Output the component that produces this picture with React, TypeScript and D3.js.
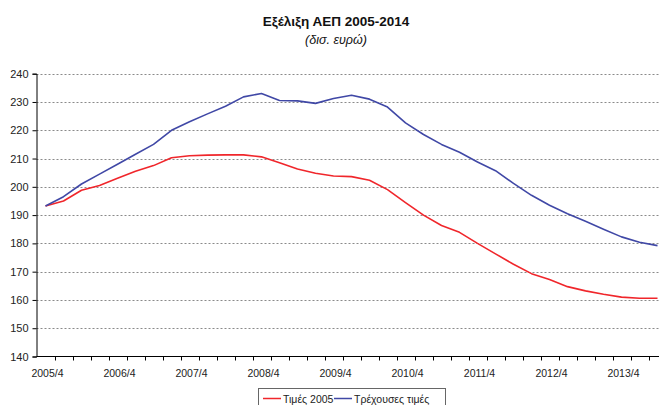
import { useEffect, useRef } from 'react';
import * as d3 from 'd3';

// Quarterly categories, 2005/4 .. 2014/2
const QUARTERS = [
  '2005/4',
  '2006/1', '2006/2', '2006/3', '2006/4',
  '2007/1', '2007/2', '2007/3', '2007/4',
  '2008/1', '2008/2', '2008/3', '2008/4',
  '2009/1', '2009/2', '2009/3', '2009/4',
  '2010/1', '2010/2', '2010/3', '2010/4',
  '2011/1', '2011/2', '2011/3', '2011/4',
  '2012/1', '2012/2', '2012/3', '2012/4',
  '2013/1', '2013/2', '2013/3', '2013/4',
  '2014/1', '2014/2',
];

// Τιμές 2005 (constant prices)
const CONSTANT_PRICES = [
  193.2, 195.0, 198.8, 200.5, 203.0, 205.5, 207.5, 210.3, 211.0,
  211.2, 211.3, 211.3, 210.6, 208.5, 206.3, 204.8, 203.8, 203.6,
  202.3, 199.0, 194.4, 190.0, 186.3, 183.9, 180.0, 176.3, 172.6,
  169.3, 167.2, 164.7, 163.2, 162.0, 161.0, 160.6, 160.6,
];

// Τρέχουσες τιμές (current prices)
const CURRENT_PRICES = [
  193.2, 196.5, 201.0, 204.5, 208.0, 211.5, 215.0, 220.0, 223.0,
  225.8, 228.5, 231.8, 233.0, 230.5, 230.4, 229.5, 231.2, 232.4,
  231.0, 228.2, 222.6, 218.5, 215.0, 212.2, 208.8, 205.7, 201.2,
  197.0, 193.5, 190.5, 187.8, 185.0, 182.3, 180.4, 179.2,
];

const Y_TICKS = [140, 150, 160, 170, 180, 190, 200, 210, 220, 230, 240];

const SERIES = [
  { name: 'Τιμές 2005', values: CONSTANT_PRICES, color: '#f0262b' },
  { name: 'Τρέχουσες τιμές', values: CURRENT_PRICES, color: '#4048a6' },
];

const WIDTH = 659;
const HEIGHT = 405;
const PLOT = { left: 36.5, top: 73.7, bottom: 356.5, band: 18 };
const FONT = '"Liberation Sans", Arial, sans-serif';

export default function App() {
  const svgRef = useRef<SVGSVGElement>(null);

  useEffect(() => {
    if (!svgRef.current) return;
    const svg = d3.select(svgRef.current);
    svg.selectAll('*').remove();

    const x = d3
      .scaleBand<string>()
      .domain(QUARTERS)
      .range([PLOT.left, PLOT.left + QUARTERS.length * PLOT.band])
      .padding(0);
    const y = d3.scaleLinear().domain([140, 240]).range([PLOT.bottom, PLOT.top]);
    const cx = (q: string) => (x(q) ?? 0) + x.bandwidth() / 2;
    const xEnd = PLOT.left + QUARTERS.length * PLOT.band;

    svg.append('rect').attr('width', WIDTH).attr('height', HEIGHT).attr('fill', '#fff');

    // Title
    svg.append('text')
      .attr('x', 336)
      .attr('y', 26)
      .attr('text-anchor', 'middle')
      .attr('font-family', FONT)
      .attr('font-size', '13.5px')
      .attr('font-weight', 'bold')
      .attr('fill', '#111')
      .text('Εξέλιξη ΑΕΠ 2005-2014');

    svg.append('text')
      .attr('x', 336)
      .attr('y', 44)
      .attr('text-anchor', 'middle')
      .attr('font-family', FONT)
      .attr('font-size', '12.5px')
      .attr('font-style', 'italic')
      .attr('fill', '#111')
      .text('(δισ. ευρώ)');

    // Gridlines
    svg.append('g')
      .selectAll('line')
      .data(Y_TICKS.filter((t) => t > 140))
      .enter()
      .append('line')
      .attr('x1', PLOT.left)
      .attr('x2', xEnd)
      .attr('y1', (d) => Math.round(y(d)) + 0.5)
      .attr('y2', (d) => Math.round(y(d)) + 0.5)
      .attr('stroke', '#8a8a8a')
      .attr('stroke-width', 1)
      .attr('stroke-dasharray', '2,2');

    // Y axis
    const yAxis = d3
      .axisLeft(y)
      .tickValues(Y_TICKS)
      .tickSize(4)
      .tickPadding(4)
      .tickFormat((d) => String(d));
    const yg = svg.append('g').attr('transform', `translate(${PLOT.left},0)`).call(yAxis);
    yg.select('.domain').attr('stroke', '#000');
    yg.selectAll('.tick line').attr('stroke', '#000');
    yg.selectAll('text')
      .attr('font-family', FONT)
      .attr('font-size', '11px')
      .attr('fill', '#222');

    // X axis: tick marks between quarters
    svg.append('line')
      .attr('x1', PLOT.left)
      .attr('x2', xEnd)
      .attr('y1', PLOT.bottom)
      .attr('y2', PLOT.bottom)
      .attr('stroke', '#000');
    svg.append('g')
      .selectAll('line')
      .data(QUARTERS)
      .enter()
      .append('line')
      .attr('x1', (d) => Math.round((x(d) ?? 0) + x.bandwidth()) + 0.5)
      .attr('x2', (d) => Math.round((x(d) ?? 0) + x.bandwidth()) + 0.5)
      .attr('y1', PLOT.bottom)
      .attr('y2', PLOT.bottom + 4)
      .attr('stroke', '#000');
    svg.append('g')
      .selectAll('text')
      .data(QUARTERS.filter((q) => q.endsWith('/4')))
      .enter()
      .append('text')
      .attr('x', (d) => cx(d) + 2)
      .attr('y', 377)
      .attr('text-anchor', 'middle')
      .attr('font-family', FONT)
      .attr('font-size', '10.5px')
      .attr('fill', '#222')
      .text((d) => d);

    // Lines
    const line = d3
      .line<number>()
      .x((_, i) => cx(QUARTERS[i]))
      .y((d) => y(d));
    SERIES.forEach((s) => {
      svg.append('path')
        .datum(s.values)
        .attr('d', line)
        .attr('fill', 'none')
        .attr('stroke', s.color)
        .attr('stroke-width', 1.6)
        .attr('stroke-linejoin', 'round');
    });

    // Legend
    const lg = svg.append('g');
    lg.append('rect')
      .attr('x', 258.5)
      .attr('y', 388.5)
      .attr('width', 187)
      .attr('height', 22)
      .attr('fill', '#fff')
      .attr('stroke', '#666');
    const items = [
      { s: SERIES[0], lx: 263, tx: 283 },
      { s: SERIES[1], lx: 334, tx: 354 },
    ];
    items.forEach(({ s, lx, tx }) => {
      lg.append('line')
        .attr('x1', lx)
        .attr('x2', lx + 18)
        .attr('y1', 398.5)
        .attr('y2', 398.5)
        .attr('stroke', s.color)
        .attr('stroke-width', 1.5);
      lg.append('text')
        .attr('x', tx)
        .attr('y', 402.5)
        .attr('font-family', FONT)
        .attr('font-size', '10.5px')
        .attr('fill', '#222')
        .text(s.name);
    });
  }, []);

  return (
    <div style={{ position: 'fixed', left: 0, top: 0 }}>
      <svg ref={svgRef} width={WIDTH} height={HEIGHT} style={{ display: 'block' }} />
    </div>
  );
}
